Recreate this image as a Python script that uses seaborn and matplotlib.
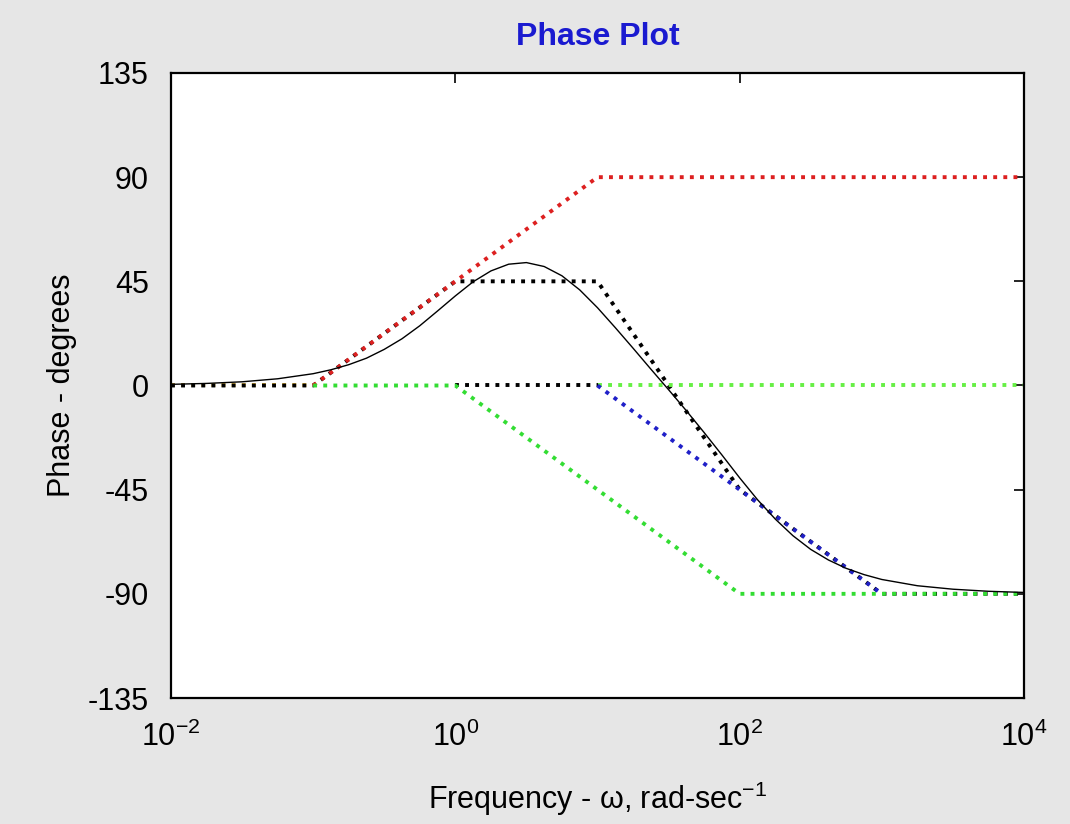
import matplotlib
matplotlib.use("Agg")
import matplotlib.pyplot as plt
from matplotlib import font_manager
import seaborn as sns
import pandas as pd

# ---------------- data ----------------
# exact phase curve
freq_exact = [0.01, 0.0178, 0.0316, 0.0562, 0.1, 0.1334, 0.178, 0.2371, 0.316,
              0.4217, 0.562, 0.75, 1.0, 1.3335, 1.78, 2.371, 3.16, 4.217, 5.62,
              7.5, 10.0, 13.335, 17.8, 23.71, 31.6, 42.17, 56.2, 75.0, 100.0,
              133.35, 178.0, 237.1, 316.0, 421.7, 562.0, 750.0, 1000.0, 1778.0,
              3162.0, 5623.0, 10000.0]
phase_exact = [0.5, 0.9, 1.6, 2.9, 5.1, 6.8, 9.0, 11.8, 15.6,
               20.2, 25.8, 32.2, 38.7, 44.8, 49.5, 52.4, 53.1, 51.4, 47.4,
               41.3, 33.6, 25.0, 16.1, 7.1, -1.8, -10.9, -20.3, -30.0, -39.9,
               -49.3, -57.7, -64.9, -70.8, -75.4, -79.0, -81.7, -83.8, -86.5,
               -88.0, -88.9, -89.4]

# asymptotes
gain_w, gain_ph = [0.01, 0.1], [0, 0]
zero_w, zero_ph = [0.1, 10, 10000], [0, 90, 90]
pole1_w, pole1_ph = [0.1, 1, 100, 10000], [0, 0, -90, -90]
pole2_w, pole2_ph = [10, 1000], [0, -90]
flat_w, flat_ph = [1, 10], [0, 0]
flat2_w, flat2_ph = [10, 10000], [0, 0]
sum_w = [0.01, 0.1, 1, 10, 100, 1000, 10000]
sum_ph = [0, 0, 45, 45, -45, -90, -90]

x_ticks = [1e-2, 1e0, 1e2, 1e4]
y_ticks = [-135, -90, -45, 0, 45, 90, 135]

# ---------------- style ----------------
sns.set_style("white")
names = {f.name for f in font_manager.fontManager.ttflist}
fam = "Liberation Sans Narrow" if "Liberation Sans Narrow" in names else "Liberation Sans"
plt.rcParams["font.family"] = [fam, "DejaVu Sans"]
plt.rcParams["mathtext.fontset"] = "custom"
plt.rcParams["mathtext.rm"] = fam
plt.rcParams["mathtext.it"] = fam
plt.rcParams["mathtext.bf"] = fam + ":bold"
plt.rcParams["text.color"] = "black"
plt.rcParams["axes.labelcolor"] = "black"

bg = "#e6e6e6"
fig = plt.figure(figsize=(10.7, 8.24), dpi=100, facecolor=bg)
ax = fig.add_axes([171 / 1070, 1 - 698 / 824, (1024 - 171) / 1070, (698 - 73) / 824])
ax.set_facecolor("white")

dot = (0, (1, 1.6))
lw = 2.8

def draw(w, ph, color, ls, width):
    df = pd.DataFrame({"w": w, "ph": ph})
    sns.lineplot(data=df, x="w", y="ph", ax=ax, color=color, linestyle=ls,
                 linewidth=width, estimator=None, sort=False)

draw(gain_w, gain_ph, "#f2bf3a", dot, lw)
draw(sum_w, sum_ph, "black", dot, lw)
draw(flat_w, flat_ph, "black", dot, lw)
draw(zero_w, zero_ph, "#dd2020", dot, lw)
draw(pole1_w, pole1_ph, "#33dd33", dot, lw)
draw(flat2_w, flat2_ph, "#66f044", dot, lw)
draw(pole2_w, pole2_ph, "#2020c8", dot, lw)
draw(freq_exact, phase_exact, "black", "-", 1.0)

ax.set_xscale("log")
ax.set_xlim(1e-2, 1e4)
ax.set_ylim(-135, 135)
ax.set_xticks(x_ticks)
ax.set_yticks(y_ticks)
ax.set_yticklabels([str(v) for v in y_ticks])
ax.minorticks_off()
ax.tick_params(axis="both", which="major", direction="in", length=7, width=1.2,
               labelsize=22, top=True, right=True, colors="black")
ax.tick_params(axis="x", pad=17)
ax.tick_params(axis="y", pad=16)
for s in ax.spines.values():
    s.set_visible(True)
    s.set_color("black")
    s.set_linewidth(1.6)

ax.set_xlabel(r"Frequency - ω, rad-sec$^{-1}$", fontsize=22, labelpad=19)
ax.set_ylabel("Phase - degrees", fontsize=22, labelpad=8)
ax.set_title("Phase Plot", fontsize=23, color="#1a1ad0", fontweight="bold", pad=20)

fig.savefig("out.png", dpi=100, facecolor=bg)
